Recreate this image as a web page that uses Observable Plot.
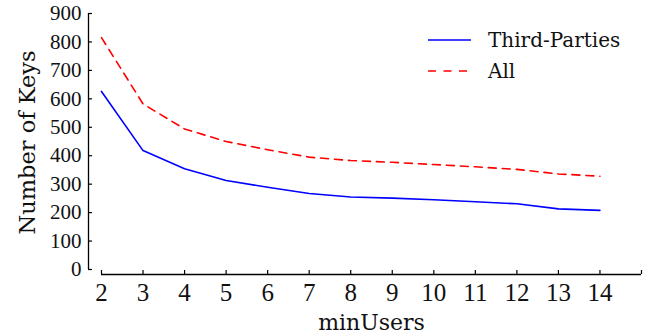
<!DOCTYPE html>
<html><head><meta charset="utf-8">
<script src="https://cdn.jsdelivr.net/npm/d3@7"></script>
<script src="https://cdn.jsdelivr.net/npm/@observablehq/plot@0.6"></script>
<style>body{margin:0;background:#fff;}</style>
</head><body><div id="chart"></div>
<script>
const minUsers = [2, 3, 4, 5, 6, 7, 8, 9, 10, 11, 12, 13, 14];
const thirdParties = [626, 418, 354, 313, 289, 267, 255, 251, 245, 238, 231, 213, 208];
const allKeys = [815, 582, 494, 450, 421, 395, 383, 377, 369, 361, 352, 336, 328];
const seriesNames = ["Third-Parties", "All"];
const xTicks = [2, 3, 4, 5, 6, 7, 8, 9, 10, 11, 12, 13, 14, 15];
const xTickLabels = [2, 3, 4, 5, 6, 7, 8, 9, 10, 11, 12, 13, 14];
const yTicks = [0, 100, 200, 300, 400, 500, 600, 700, 800, 900];

const W = 665, H = 336, mL = 101, mR = 24, mT = 13, mB = 67;
const frameW = W - mL - mR, frameH = H - mT - mB;
const digitFont = "'Liberation Serif', serif";
const textFont = "'DejaVu Serif', serif";

const tp = minUsers.map((x, i) => ({x, y: thirdParties[i]}));
const al = minUsers.map((x, i) => ({x, y: allKeys[i]}));

const plot = Plot.plot({
  width: W, height: H,
  marginLeft: mL, marginRight: mR, marginTop: mT, marginBottom: mB,
  x: {domain: [2, 15], axis: null},
  y: {domain: [0, 900], axis: null},
  style: {background: "#fff"},
  marks: [
    Plot.ruleX([2], {y1: 0, y2: 900, dx: -13, stroke: "#000", strokeWidth: 1.3}),
    Plot.tickY(yTicks, {y: d => d, dx: -13, insetRight: frameW - 4, stroke: "#000", strokeWidth: 1.2}),
    Plot.text(yTicks, {y: d => d, text: d => String(d), frameAnchor: "left", dx: -20, textAnchor: "end", lineAnchor: "middle", fontSize: 21, fontFamily: digitFont, fill: "#111"}),
    Plot.ruleY([0], {x1: 2, x2: 15, dy: 5, stroke: "#000", strokeWidth: 1.3}),
    Plot.tickX(xTicks, {x: d => d, insetTop: frameH - 4, dy: 5, stroke: "#000", strokeWidth: 1.2}),
    Plot.text(xTickLabels, {x: d => d, text: d => String(d), frameAnchor: "bottom", lineAnchor: "middle", dy: 23, fontSize: 25, fontFamily: digitFont, fill: "#111"}),
    Plot.text(["Number of Keys"], {frameAnchor: "left", textAnchor: "middle", lineAnchor: "middle", dx: -74, dy: 1, rotate: -90, fontSize: 22.5, fontFamily: textFont, fill: "#111"}),
    Plot.text(["minUsers"], {frameAnchor: "bottom", textAnchor: "middle", lineAnchor: "middle", dy: 53, fontSize: 22, fontFamily: textFont, fill: "#111"}),
    Plot.line(al, {x: "x", y: "y", stroke: "#ff0000", strokeWidth: 1.6, strokeDasharray: "8,6"}),
    Plot.line(tp, {x: "x", y: "y", stroke: "#0000ff", strokeWidth: 1.6})
  ]
});

// legend
const svg = d3.select(plot);
const leg = svg.append("g");
const items = [
  {name: seriesNames[0], color: "#0000ff", dash: null, y: 40},
  {name: seriesNames[1], color: "#ff0000", dash: "8,7.5", y: 71}
];
items.forEach(it => {
  leg.append("line").attr("x1", 428).attr("x2", 471).attr("y1", it.y).attr("y2", it.y)
    .attr("stroke", it.color).attr("stroke-width", 1.6).attr("stroke-dasharray", it.dash);
  leg.append("text").attr("x", 488).attr("y", it.y).attr("dy", "0.35em")
    .attr("text-anchor", "start")
    .attr("font-family", textFont).attr("font-size", 20).attr("fill", "#111").text(it.name);
});

document.getElementById("chart").appendChild(plot);
</script>
</body></html>
